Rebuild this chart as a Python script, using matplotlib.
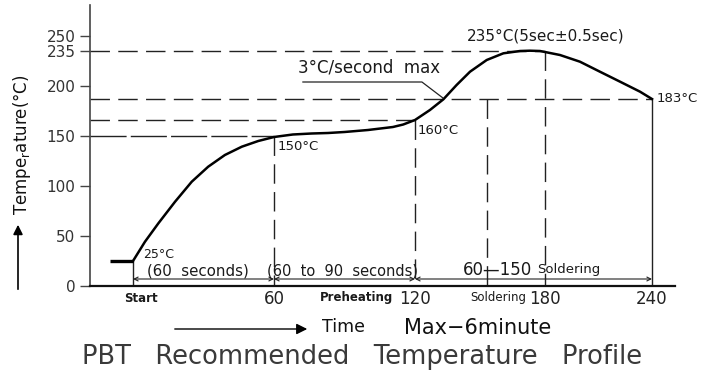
import numpy as np
import matplotlib
matplotlib.use("Agg")
import matplotlib.pyplot as plt

# ---- data ----
curve_t = [0, 5.1, 10.8, 17.9, 25.0, 32.0, 39.1, 46.3, 53.3, 60, 68, 76, 83, 90, 100, 110.6, 115, 120,
           126.9, 133.1, 139.2, 145.4, 153.1, 160.8, 168.5, 173, 177.7, 188.4, 199.6, 210.8,
           222.1, 233.3, 240]
curve_T = [25, 44.3, 62.7, 84.3, 104.3, 119.3, 131, 139.3, 145, 149, 151.5, 152.5, 153, 154, 156, 159, 161.5, 166,
           176, 186.7, 201, 214.3, 226, 232.7, 235, 235.3, 235, 231, 224.3, 214.3,
           204.3, 194.3, 187]
start_T = 25
ytick_vals = [0, 50, 100, 150, 200, 235, 250]
xtick_vals = [0, 60, 120, 180, 240]
xtick_labels = ["Start", "60", "120", "180", "240"]
soldering_t = 153
peak_T = 235
liquidus_T = 187
preheat_end_T = 166
preheat_start_T = 150

# ---- schematic (non-uniform) time scale ----
_tb = [-18.3, 0, 60, 120, 180, 240, 252.9]
_pb = [90, 133, 274, 415, 545, 652, 675]
def fwd(t):
    return np.interp(t, _tb, _pb)
def inv(p):
    return np.interp(p, _pb, _tb)

fig = plt.figure(figsize=(7.04, 3.78), dpi=100)
ax = fig.add_axes([90/704, 1-286/378, (675-90)/704, 281/378])
ax.set_xscale('function', functions=(fwd, inv))
ax.set_xlim(-18.3, 252.9)
ax.set_ylim(0, 281)

for s in ['top', 'right']:
    ax.spines[s].set_visible(False)
ax.spines['left'].set_color('#444444')
ax.spines['left'].set_linewidth(1.2)
ax.spines['bottom'].set_color('#111111')
ax.spines['bottom'].set_linewidth(1.6)

ax.set_yticks(ytick_vals)
ax.set_yticklabels([str(v) for v in ytick_vals], fontsize=11, color='#333333')
ax.tick_params(axis='y', length=7.5, width=1, color='#444444', pad=3)
ax.set_xticks(xtick_vals)
ax.set_xticklabels([""] + xtick_labels[1:], fontsize=12, color='#222222')
ax.tick_params(axis='x', length=0, pad=3)
ax.xaxis.set_minor_locator(matplotlib.ticker.NullLocator())
ax.yaxis.set_minor_locator(matplotlib.ticker.NullLocator())

dash = (0, (14, 6))
kw = dict(color='#222222', lw=1.0, linestyle=dash)
# horizontal guide lines
ax.plot([-18.3, 180], [peak_T, peak_T], **kw)
ax.plot([-18.3, 240], [liquidus_T, liquidus_T], **kw)
ax.plot([-18.3, 120], [preheat_end_T, preheat_end_T], **kw)
ax.plot([-18.3, 60], [preheat_start_T, preheat_start_T], color='#222222', lw=1.0, linestyle=(0, (26, 3)))
# vertical guide lines
ax.plot([60, 60], [preheat_start_T, 0], **kw)
ax.plot([120, 120], [preheat_end_T, 0], **kw)
ax.plot([soldering_t, soldering_t], [liquidus_T, 0], **kw)
ax.plot([180, 180], [peak_T, 0], **kw)
ax.plot([240, 240], [liquidus_T, 0], color='#222222', lw=1.0)
ax.plot([0, 0], [start_T, 0], color='#222222', lw=1.0)

# profile curve
ax.plot([-10, 0], [start_T, start_T], color='black', lw=2.4, solid_capstyle='butt')
ax.plot(curve_t, curve_T, color='black', lw=1.8, solid_joinstyle='round')

# bottom interval arrows
akw = dict(arrowstyle='<->', color='#222222', lw=0.8, shrinkA=0, shrinkB=0, mutation_scale=7)
ax.annotate('', xy=(0, 7), xytext=(60, 7), arrowprops=akw)
ax.annotate('', xy=(60, 7), xytext=(120, 7), arrowprops=akw)
ax.annotate('', xy=(120, 7), xytext=(240, 7), arrowprops=akw)

tc = '#1a1a1a'
ax.text(4.3, 31, "25°C", fontsize=9, color=tc, va='center', ha='left')
ax.text(6, 15.5, "(60  seconds)", fontsize=10.8, color=tc, va='center', ha='left')
ax.text(57, 15.5, "(60  to  90  seconds)", fontsize=10.5, color=tc, va='center', ha='left')
ax.text(142, 16, "60—150", fontsize=12, color=tc, va='center', ha='left')
ax.text(176.5, 16, "Soldering", fontsize=9.5, color=tc, va='center', ha='left')
ax.text(3.2, -12, xtick_labels[0], fontsize=8.5, fontweight='bold', color=tc, va='center', ha='center', clip_on=False)
ax.text(95, -12, "Preheating", fontsize=8.5, fontweight='bold', color=tc, va='center', ha='center', clip_on=False)
ax.text(158.5, -12, "Soldering", fontsize=8.5, color=tc, va='center', ha='center', clip_on=False)

ax.text(61.7, 139, "150°C", fontsize=9.5, color=tc, va='center', ha='left')
ax.text(121.4, 155, "160°C", fontsize=9.5, color=tc, va='center', ha='left')
ax.text(242.8, 188, "183°C", fontsize=9.5, color=tc, va='center', ha='left', clip_on=False)
ax.text(144, 250, "235°C(5sec±0.5sec)", fontsize=11, color=tc, va='center', ha='left')
ax.text(70.2, 218, "3°C/second  max", fontsize=12, color=tc, va='center', ha='left')
ax.plot([72.3, 123.2, 132.9], [204, 204, 188], color='#222222', lw=0.9)

# axis titles with arrows
fig.text(22/704, 1-145/378, "Tempe$_{\\mathrm{r}}$ature(°C)", rotation=90, fontsize=12,
         color='#111111', ha='center', va='center')
fig.add_artist(matplotlib.patches.FancyArrowPatch((18/704, 1-292/378), (18/704, 1-222/378),
               transform=fig.transFigure, arrowstyle='-|>', mutation_scale=14, lw=1.2, color='black'))
fig.add_artist(matplotlib.patches.FancyArrowPatch((172/704, 1-329/378), (310/704, 1-329/378),
               transform=fig.transFigure, arrowstyle='-|>', mutation_scale=16, lw=1.0, color='black'))
fig.text(322/704, 1-327/378, "Time", fontsize=12.5, color='#111111', ha='left', va='center')
fig.text(404/704, 1-328/378, "Max−6minute", fontsize=15, color='#111111', ha='left', va='center')
fig.text(362/704, 1-357/378, "PBT   Recommended   Temperature   Profile", fontsize=18.5,
         color='#3a3a3a', ha='center', va='center')

fig.savefig("out.png", dpi=100)
